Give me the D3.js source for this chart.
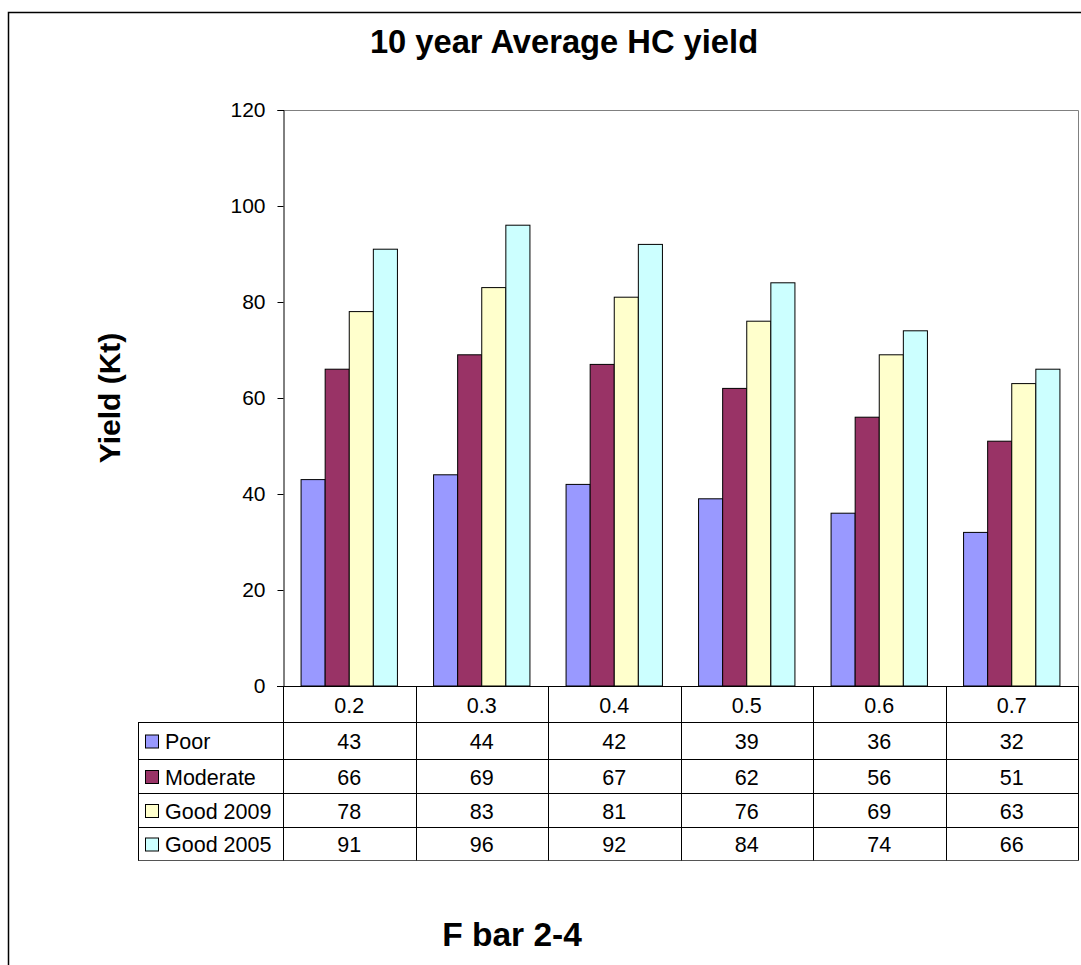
<!DOCTYPE html>
<html>
<head>
<meta charset="utf-8">
<script src="https://cdn.jsdelivr.net/npm/d3@7"></script>
<style>
  html, body { margin: 0; padding: 0; background: #fff; }
  svg { display: block; font-family: "Liberation Sans", Arial, sans-serif; }
</style>
</head>
<body>
<svg id="chart" width="1081" height="965"></svg>
<script>
// Ratio categories along the x axis
const categories = ["0.2", "0.3", "0.4", "0.5", "0.6", "0.7"];
// Series names and their Excel-style fills
const seriesNames = ["Poor", "Moderate", "Good 2009", "Good 2005"];
const seriesColors = ["#9999FF", "#993366", "#FFFFCC", "#CCFFFF"];
// Yield per series, one value per category (Kt)
const poor     = [43, 44, 42, 39, 36, 32];
const moderate = [66, 69, 67, 62, 56, 51];
const good2009 = [78, 83, 81, 76, 69, 63];
const good2005 = [91, 96, 92, 84, 74, 66];
// Y axis ticks
const yTicks = [0, 20, 40, 60, 80, 100, 120];

const seriesValues = [poor, moderate, good2009, good2005];

const svg = d3.select("#chart");

// Outer chart frame
svg.append("path")
  .attr("d", "M8.5,965 V12.5 H1081")
  .attr("fill", "none").attr("stroke", "#000").attr("stroke-width", 1.5);

const plot = { left: 283, right: 1078, top: 110, bottom: 686 };

const x = d3.scaleBand().domain(categories).range([plot.left, plot.right]);
const bw = x.bandwidth() / 5.5;            // gap width 150%
const xs = d3.scaleBand().domain(seriesNames)
  .range([bw * 0.75, bw * 4.75]);
const y = d3.scaleLinear().domain([0, 120]).range([plot.bottom, plot.top]);

// Plot area border (top and right)
svg.append("path")
  .attr("d", `M${plot.left},${plot.top + 0.5} H${plot.right + 0.5} V${plot.bottom}`)
  .attr("fill", "none").attr("stroke", "#808080").attr("stroke-width", 1);

// Bars
const groups = svg.append("g").selectAll("g")
  .data(seriesNames)
  .join("g")
  .attr("fill", (d, i) => seriesColors[i]);

groups.selectAll("rect")
  .data((s, i) => seriesValues[i].map((v, j) => ({ s, v, c: categories[j] })))
  .join("rect")
  .attr("x", d => x(d.c) + xs(d.s))
  .attr("y", d => y(d.v))
  .attr("width", xs.bandwidth())
  .attr("height", d => y(0) - y(d.v))
  .attr("stroke", "#000")
  .attr("stroke-width", 1);

// Y axis
const yAxis = svg.append("g")
  .attr("transform", `translate(${plot.left + 0.5},0)`)
  .call(d3.axisLeft(y).tickValues(yTicks).tickSize(6).tickPadding(12));
yAxis.select(".domain").attr("stroke", "#000");
yAxis.selectAll(".tick line").attr("stroke", "#000");
yAxis.selectAll("text")
  .attr("font-size", 21).attr("fill", "#000")
  .attr("font-family", "'Liberation Sans', Arial, sans-serif");

// X axis baseline
svg.append("line")
  .attr("x1", plot.left - 6).attr("x2", plot.right + 0.5)
  .attr("y1", plot.bottom + 0.5).attr("y2", plot.bottom + 0.5)
  .attr("stroke", "#000");

// Data table under the plot: header row, then one row per series
const table = { left: 138, headerBottom: 722, bottom: 860 };
const rowEdges = [722, 759, 793, 827, 860];
const rowTop = s => rowEdges[seriesNames.indexOf(s)];
const rowMid = s => (rowEdges[seriesNames.indexOf(s)] + rowEdges[seriesNames.indexOf(s) + 1]) / 2;
const tg = svg.append("g");

// Horizontal rules
tg.append("line")
  .attr("x1", table.left).attr("x2", plot.right + 0.5)
  .attr("y1", table.headerBottom + 0.5).attr("y2", table.headerBottom + 0.5)
  .attr("stroke", "#000");
seriesNames.slice(1).forEach(s => {
  tg.append("line")
    .attr("x1", table.left).attr("x2", plot.right + 0.5)
    .attr("y1", rowTop(s) + 0.5).attr("y2", rowTop(s) + 0.5)
    .attr("stroke", "#000");
});
tg.append("line")
  .attr("x1", table.left).attr("x2", plot.right + 0.5)
  .attr("y1", table.bottom + 0.5).attr("y2", table.bottom + 0.5)
  .attr("stroke", "#555");

// Vertical rules
tg.append("line")
  .attr("x1", table.left + 0.5).attr("x2", table.left + 0.5)
  .attr("y1", table.headerBottom).attr("y2", table.bottom + 0.5)
  .attr("stroke", "#000");
categories.concat(["end"]).forEach((c, i) => {
  const xx = i < categories.length ? x(c) : plot.right;
  tg.append("line")
    .attr("x1", Math.round(xx) + 0.5).attr("x2", Math.round(xx) + 0.5)
    .attr("y1", plot.bottom).attr("y2", table.bottom + 0.5)
    .attr("stroke", "#000");
});

// Category labels (header row)
tg.selectAll("text.cat")
  .data(categories)
  .join("text")
  .attr("class", "cat")
  .attr("x", d => x(d) + x.bandwidth() / 2)
  .attr("y", (plot.bottom + table.headerBottom) / 2 + 1)
  .attr("dy", "0.35em")
  .attr("text-anchor", "middle")
  .attr("font-size", 21.5)
  .text(d => d);

// Row headers with legend keys
const rows = tg.selectAll("g.row")
  .data(seriesNames)
  .join("g")
  .attr("class", "row")
  .attr("transform", d => `translate(0,${rowMid(d) + 1})`);
rows.append("rect")
  .attr("x", 145.5).attr("y", -6.5)
  .attr("width", 13).attr("height", 13)
  .attr("fill", (d, i) => seriesColors[i])
  .attr("stroke", "#000");
rows.append("text")
  .attr("x", 165).attr("dy", "0.35em")
  .attr("font-size", 21.5)
  .text(d => d);

// Values in each cell
rows.each(function (s, i) {
  d3.select(this).selectAll("text.val")
    .data(seriesValues[i])
    .join("text")
    .attr("class", "val")
    .attr("x", (v, j) => x(categories[j]) + x.bandwidth() / 2)
    .attr("dy", "0.35em")
    .attr("text-anchor", "middle")
    .attr("font-size", 21.5)
    .text(v => v);
});

// Titles
svg.append("text")
  .attr("x", 564).attr("y", 53)
  .attr("text-anchor", "middle")
  .attr("font-size", 32.7).attr("font-weight", "bold")
  .text("10 year Average HC yield");

svg.append("text")
  .attr("transform", "translate(120,398) rotate(-90)")
  .attr("text-anchor", "middle")
  .attr("font-size", 30).attr("font-weight", "bold")
  .text("Yield (Kt)");

svg.append("text")
  .attr("x", 512).attr("y", 946)
  .attr("text-anchor", "middle")
  .attr("font-size", 33.5).attr("font-weight", "bold")
  .text("F bar 2-4");
</script>
</body>
</html>
